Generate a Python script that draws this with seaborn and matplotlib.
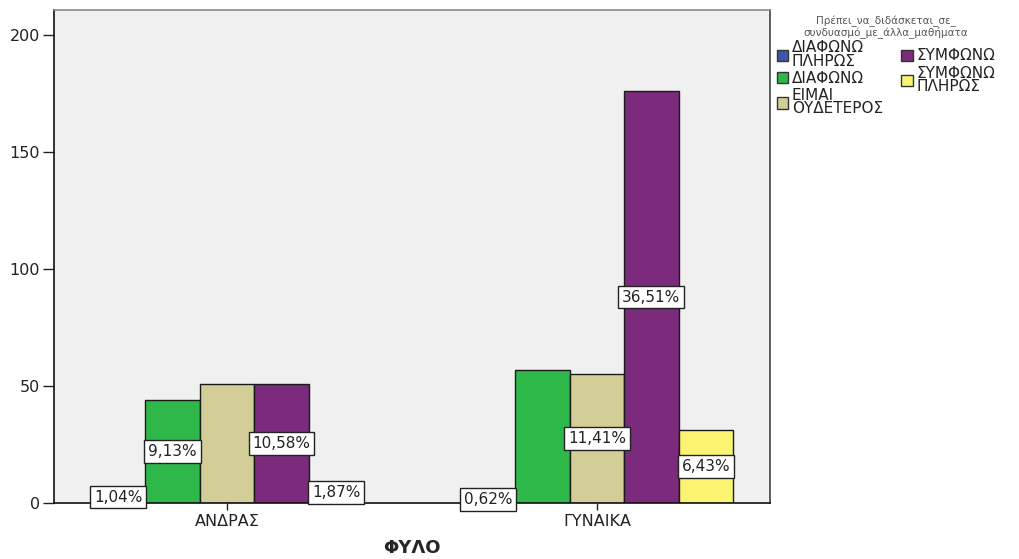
import matplotlib
matplotlib.use("Agg")
import matplotlib.pyplot as plt
import seaborn as sns
import pandas as pd

genders = ["ΑΝΔΡΑΣ", "ΓΥΝΑΙΚΑ"]
responses = ["ΔΙΑΦΩΝΩ\nΠΛΗΡΩΣ", "ΔΙΑΦΩΝΩ", "ΕΙΜΑΙ\nΟΥΔΕΤΕΡΟΣ", "ΣΥΜΦΩΝΩ", "ΣΥΜΦΩΝΩ\nΠΛΗΡΩΣ"]
men_counts = [5, 44, 51, 51, 9]
women_counts = [3, 57, 55, 176, 31]
# percentage labels as printed (None = hidden in the original)
men_labels = ["1,04%", "9,13%", None, "10,58%", "1,87%"]
women_labels = ["0,62%", None, "11,41%", "36,51%", "6,43%"]
colors = ["#3D57AA", "#2EB84A", "#D3CE98", "#7B2A7C", "#FAF472"]
legend_title = "Πρέπει_να_διδάσκεται_σε_\nσυνδυασμό_με_άλλα_μαθήματα"
x_label = "ΦΥΛΟ"
y_ticks = [0, 50, 100, 150, 200]

rows = []
for g, counts in zip(genders, [men_counts, women_counts]):
    for r, c in zip(responses, counts):
        rows.append({"gender": g, "response": r, "count": c})
df = pd.DataFrame(rows)

sns.set_style("white")
plt.rcParams["font.family"] = ["DejaVu Sans"]

fig = plt.figure(figsize=(10.19, 5.59), dpi=100)
W, H = 1019, 559
ax = fig.add_axes([54 / W, (H - 503) / H, 716 / W, 493 / H])
ax.set_facecolor("#F0F0F0")

sns.barplot(data=df, x="gender", y="count", hue="response", order=genders,
            hue_order=responses, palette=colors, width=0.737, saturation=1,
            edgecolor="#1a1a1a", linewidth=1.0, ax=ax, errorbar=None)

ax.set_xlim(-0.468, 1.468)
ax.set_ylim(0, 210.7)
ax.set_yticks(y_ticks)
ax.tick_params(axis="y", length=8, width=1, direction="out", labelsize=11.5, pad=2, left=True, colors="#222222")
ax.tick_params(axis="x", length=5, width=1, direction="out", labelsize=11.5, pad=3, bottom=True, colors="#222222")
ax.set_ylabel("")
ax.set_xlabel(x_label, fontsize=13, fontweight="bold", labelpad=7)

for side, col in [("left", "#111111"), ("bottom", "#111111"), ("top", "#8a8a8a"), ("right", "#444444")]:
    ax.spines[side].set_visible(True)
    ax.spines[side].set_color(col)
    ax.spines[side].set_linewidth(1.2)

labels_by_gender = [men_labels, women_labels]
for hi, cont in enumerate(ax.containers):
    for gi, bar in enumerate(cont):
        txt = labels_by_gender[gi][hi]
        if txt is None:
            continue
        xc = bar.get_x() + bar.get_width() / 2
        yc = bar.get_height() / 2
        ax.text(xc, yc, txt, ha="center", va="center", fontsize=11, color="#222222",
                bbox=dict(boxstyle="square,pad=0.25", facecolor="white", edgecolor="#222222", linewidth=1),
                zorder=5)

handles, labs = ax.get_legend_handles_labels()
if ax.get_legend() is not None:
    ax.get_legend().remove()
for h in handles:
    h.set_edgecolor("#333333")
leg = fig.legend(handles, labs, title=legend_title, loc="upper left",
                 bbox_to_anchor=(766 / W, 1 - 5 / H), ncol=2, frameon=False,
                 fontsize=11, title_fontsize=7.5, handlelength=0.75, handleheight=0.75,
                 handletextpad=0.25, columnspacing=1.2, labelspacing=0.15, borderpad=0.2)
leg.get_title().set_color("#555555")
leg.get_title().set_multialignment("center")
leg.get_title().set_linespacing(0.9)
for t in leg.get_texts():
    t.set_linespacing(0.85)
    t.set_color("#222222")

fig.savefig("out.png", dpi=100)
